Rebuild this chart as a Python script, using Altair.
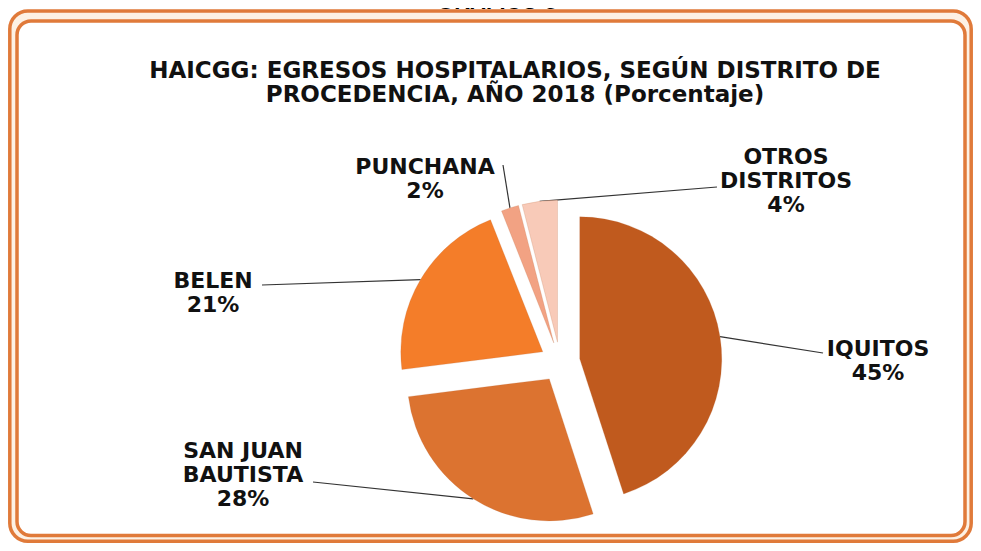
import altair as alt
import pandas as pd

# ---- data ----
CATEGORIES = ["IQUITOS", "SAN JUAN BAUTISTA", "BELEN", "PUNCHANA", "OTROS DISTRITOS"]
LABEL_LINES = [["IQUITOS"], ["SAN JUAN", "BAUTISTA"], ["BELEN"], ["PUNCHANA"], ["OTROS", "DISTRITOS"]]
PERCENTS = [45, 28, 21, 2, 4]

TITLE = "HAICGG:  EGRESOS HOSPITALARIOS,  SEGÚN DISTRITO DE\nPROCEDENCIA, AÑO 2018 (Porcentaje)"
TOP_TEXT = "GRÁFICO 5"

# ---- style / layout ----
COLORS = ["#C05A1E", "#DC7330", "#F47D29", "#F2A283", "#F8CAB8"]
LABEL_X = [870, 235, 205, 417, 778]
LABEL_Y = [341, 443, 273, 159, 149]
LEAD_END_X = [815, 305, 254, 495, 709]
LEAD_END_Y = [345, 474, 277, 157, 179]
CX, CY, R, EXPLODE = 552, 354, 142, 20
W, H = 965, 535
FONT = "DejaVu Sans"

df = pd.DataFrame({
    "cat": CATEGORIES,
    "pct": PERCENTS,
    "idx": list(range(len(CATEGORIES))),
    "label": ["\n".join(l + [f"{p}%"]) for l, p in zip(LABEL_LINES, PERCENTS)],
    "lx": LABEL_X,
    "ly": LABEL_Y,
    "ex": LEAD_END_X,
    "ey": LEAD_END_Y,
})

base = alt.Chart(df).transform_window(
    cum="sum(pct)", sort=[alt.SortField("idx")], frame=[None, 0]
).transform_calculate(
    start="datum.cum - datum.pct",
    mid="(datum.cum - datum.pct / 2) / 100 * 2 * PI",
    cx=f"{CX} + {EXPLODE} * sin(datum.mid)",
    cy=f"{CY} - {EXPLODE} * cos(datum.mid)",
    ax=f"datum.cx + {R} * sin(datum.mid)",
    ay=f"datum.cy - {R} * cos(datum.mid)",
)

one = alt.Chart(pd.DataFrame({"k": [0]}))

outer = one.mark_rect(
    fill="#FDF1E4", stroke="#E07A3A", strokeWidth=3.5, cornerRadius=18
).encode(x=alt.value(1.8), x2=alt.value(963.2), y=alt.value(3), y2=alt.value(533.2))

inner = one.mark_rect(
    fill="#FFFFFF", stroke="#E07A3A", strokeWidth=3.5, cornerRadius=14
).encode(x=alt.value(9), x2=alt.value(957), y=alt.value(13), y2=alt.value(527.5))

top_text = one.mark_text(
    font="Liberation Sans", fontWeight="bold", fontSize=22, align="center",
    baseline="alphabetic", color="#000000"
).encode(x=alt.value(489), y=alt.value(1), text=alt.value(TOP_TEXT))

title = one.mark_text(
    font=FONT, fontWeight="bold", fontSize=23, lineHeight=24, align="center",
    baseline="middle", lineBreak="\n", color="#111111"
).encode(x=alt.value(507), y=alt.value(63), text=alt.value(TITLE))

arcs = base.mark_arc(radius=R, stroke="#B8693A", strokeWidth=0.4, strokeOpacity=0.5).encode(
    theta=alt.Theta("start:Q", stack=None, scale=alt.Scale(domain=[0, 100], range=[0, 6.283185307179586])),
    theta2="cum:Q",
    x=alt.X("cx:Q", scale=None),
    y=alt.Y("cy:Q", scale=None),
    color=alt.Color("cat:N", scale=alt.Scale(domain=CATEGORIES, range=COLORS), legend=None),
)

leaders = base.mark_rule(color="#333333", strokeWidth=1.2).encode(
    x=alt.X("ax:Q", scale=None),
    y=alt.Y("ay:Q", scale=None),
    x2="ex:Q",
    y2="ey:Q",
)

labels = base.mark_text(
    font=FONT, fontWeight="bold", fontSize=22, lineHeight=24, align="center",
    baseline="middle", lineBreak="\n", color="#111111"
).encode(
    x=alt.X("lx:Q", scale=None),
    y=alt.Y("ly:Q", scale=None),
    text="label:N",
)

chart = alt.layer(outer, inner, top_text, title, leaders, arcs, labels).properties(
    width=W, height=H, padding=0, autosize=alt.AutoSizeParams(type="none"),
    background="#FFFFFF",
).configure_view(stroke=None)

chart.save("out.html", embed_options={"renderer": "svg", "actions": False})
